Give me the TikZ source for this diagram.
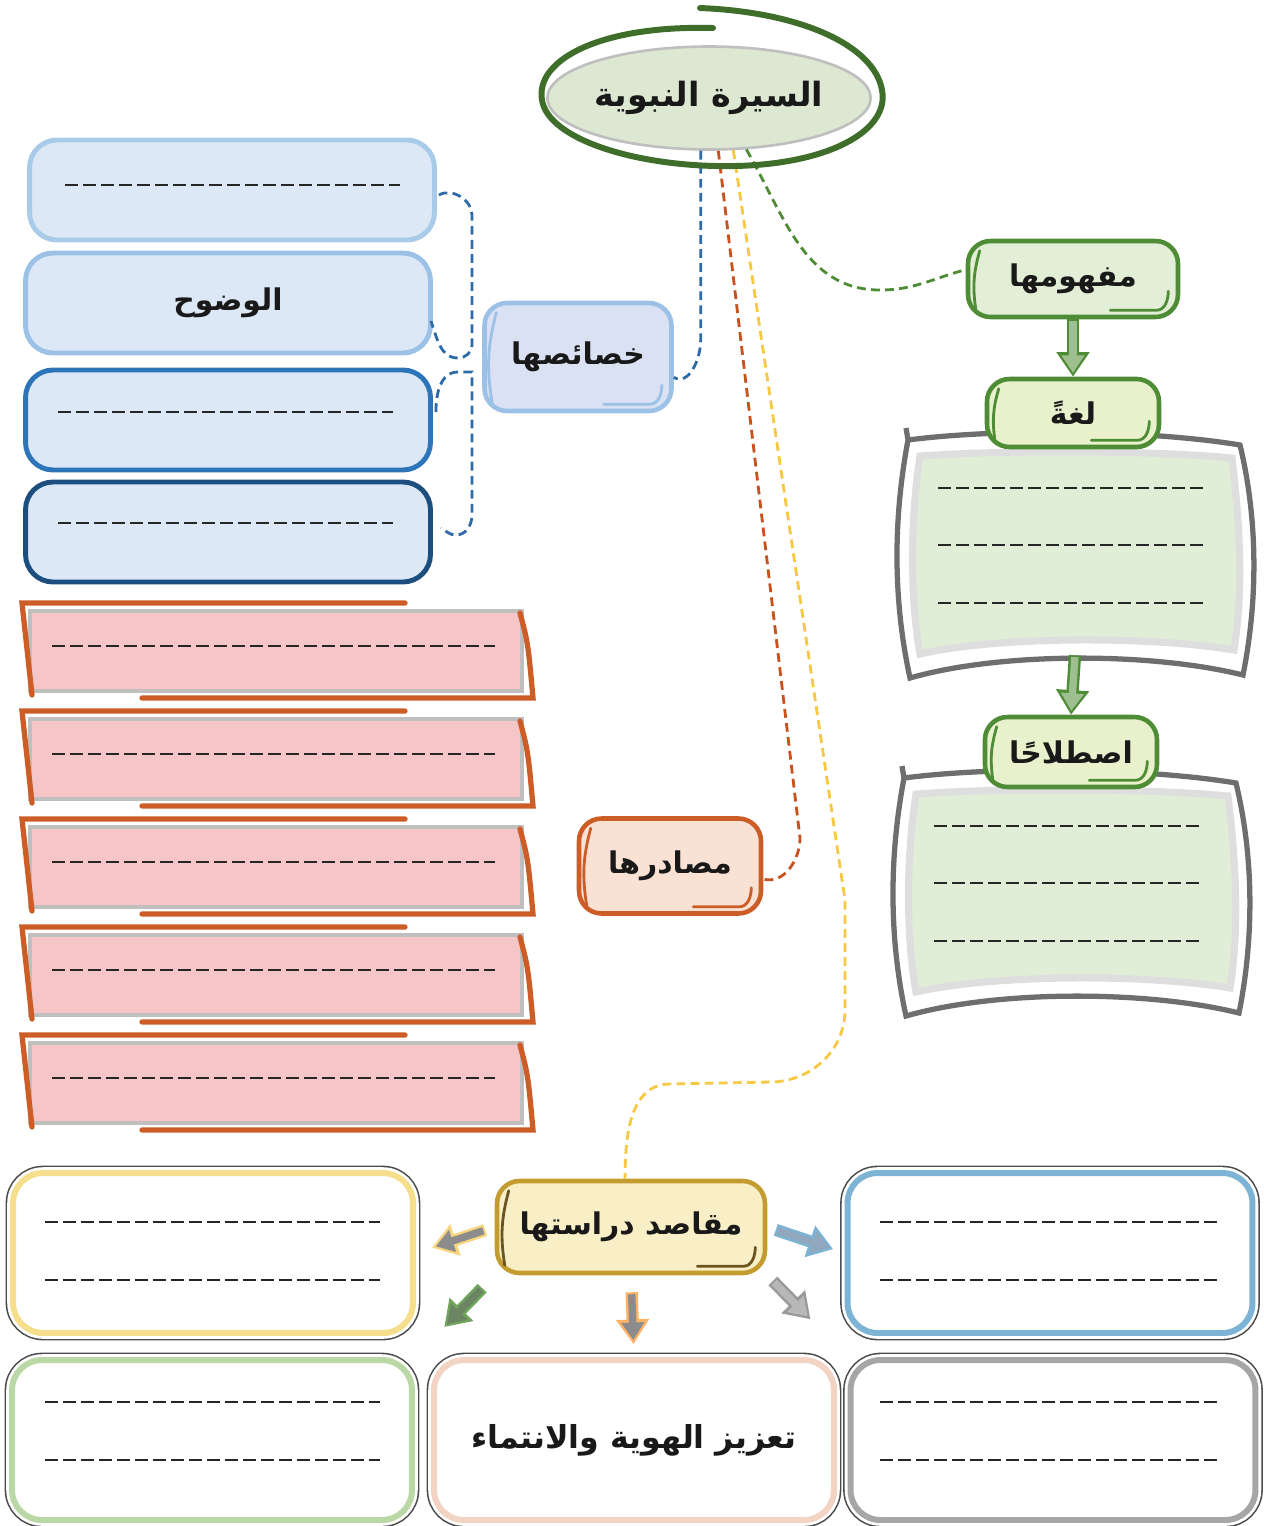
\documentclass[tikz,border=0pt]{standalone}
\usepackage{fontspec}
\newfontfamily\arabicfont[Script=Arabic]{DejaVu Sans}
\TeXXeTstate=1
\usepackage{tikz}
\usetikzlibrary{shapes.geometric, arrows.meta, positioning, calc}

\definecolor{ringgreen}{HTML}{3F6E2B}
\definecolor{titlefill}{HTML}{DCE8D1}
\definecolor{labelgreen}{HTML}{4E8D35}
\definecolor{mafhumfill}{HTML}{E2EED6}
\definecolor{lughafill}{HTML}{E8F0CC}
\definecolor{bodyfill}{HTML}{E0EDD7}
\definecolor{framegray}{HTML}{6E6E6E}
\definecolor{bluefill}{HTML}{DCE8F5}
\definecolor{blueA}{HTML}{A9CBEA}
\definecolor{blueB}{HTML}{9CC1E6}
\definecolor{blueC}{HTML}{2E74B8}
\definecolor{blueD}{HTML}{1D4E80}
\definecolor{khasaisfill}{HTML}{D9E1F3}
\definecolor{masadirfill}{HTML}{F9E1D4}
\definecolor{masadirline}{HTML}{CD5D27}
\definecolor{pinkfill}{HTML}{F6C5C7}
\definecolor{maqasidfill}{HTML}{F8EFC6}
\definecolor{maqasidline}{HTML}{C49B2E}
\definecolor{maqasidaccent}{HTML}{6B5420}
\definecolor{rimyellow}{HTML}{F5DF8C}
\definecolor{rimblue}{HTML}{7DB3D4}
\definecolor{rimgreen}{HTML}{B9D8A5}
\definecolor{rimpeach}{HTML}{F3D3C3}
\definecolor{rimgray}{HTML}{A6A6A6}
\definecolor{linkblue}{HTML}{2F6AA8}
\definecolor{linkred}{HTML}{C8521E}
\definecolor{linkyellow}{HTML}{F7C843}

\begin{document}
\begin{tikzpicture}[
    x=0.02cm, y=-0.02cm,
    lbl/.style={rectangle, rounded corners=0.45cm, line width=2.6pt, align=center, text=black!90, font=\arabicfont\bfseries\fontsize{17}{21}\selectfont},
    greenlbl/.style={lbl, draw=labelgreen},
    bluebox/.style={rectangle, rounded corners=0.55cm, fill=bluefill, line width=2.8pt, minimum width=8.1cm, minimum height=2cm, text=black!90, font=\arabicfont\bfseries\fontsize{17}{21}\selectfont},
    pinkbox/.style={rectangle, fill=pinkfill, draw=black!25, line width=2pt, minimum width=9.84cm, minimum height=1.6cm},
    aimbox/.style={rectangle, rounded corners=0.6cm, fill=white, line width=3.4pt, minimum width=8cm, minimum height=3.2cm, preaction={draw=black!70, line width=8.4pt}, preaction={draw=white, line width=6.6pt}, text=black!90, font=\arabicfont\bfseries\fontsize{18}{22}\selectfont},
    fillline/.style={line width=1.1pt, draw=black!85, dash pattern=on 0.26cm off 0.1cm},
    link/.style={line width=1.6pt, dash pattern=on 5pt off 3pt},
    bodyframe/.style={draw=framegray, line width=3pt, fill=white},
    srcframe/.style={draw=masadirline, line width=3pt, line cap=round},
    accent/.style={line width=1.6pt, line cap=round},
    fatrim/.style={line width=7pt, -{Triangle[length=14pt,width=18pt]}},
    fatcore/.style={line width=4.2pt, -{Triangle[length=10pt,width=12.5pt]}}
]
    \useasboundingbox (0,0) rectangle (1264,1526);

    % Definition bodies (right column)
    \foreach \dx/\dy in {0/0, -4/338} {
        \begin{scope}[shift={(\dx,\dy)}]
        \draw[bodyframe] (906,428) -- (908,440) .. controls (1000,428) and (1150,430) .. (1240,445) .. controls (1258,520) and (1258,600) .. (1243,675) .. controls (1150,652) and (1000,652) .. (910,678) .. controls (893,600) and (893,520) .. (908,440);
        \draw[draw=black!13, line width=4pt, fill=bodyfill] (920,456) .. controls (1000,450) and (1150,450) .. (1232,458) .. controls (1242,540) and (1242,600) .. (1234,650) .. controls (1150,636) and (1000,636) .. (920,654) .. controls (910,600) and (910,520) .. (920,456) -- cycle;
        \foreach \ly in {488,545,603} \draw[fillline] (938,\ly) -- (1203,\ly);
        \end{scope}
    }
    \node[minimum width=6.4cm, minimum height=4cm] (lughabody) at (1075,555) {};

    % Title
    \node[ellipse, inner sep=0pt, fill=titlefill, draw=black!25, line width=1.5pt, minimum width=6.44cm, minimum height=2.06cm, text=black!90, font=\arabicfont\bfseries\fontsize{19}{23}\selectfont] (sira) at (709,98) {\beginR السيرة النبوية\endR};

    % Concept
    \node[greenlbl, fill=mafhumfill, minimum width=4.2cm, minimum height=1.52cm] (mafhum) at (1073,279) {\beginR مفهومها\endR};
    \node[greenlbl, fill=lughafill, minimum width=3.44cm, minimum height=1.36cm] (lugha) at (1073,413) {\beginR لغةً\endR};
    \node[greenlbl, fill=lughafill, minimum width=3.44cm, minimum height=1.4cm] (istilah) at (1071,752) {\beginR اصطلاحًا\endR};

    % Characteristics
    \node[lbl, draw=blueB, fill=khasaisfill, minimum width=3.74cm, minimum height=2.16cm] (khasais) at (578,357) {\beginR خصائصها\endR};
    \node[bluebox, draw=blueA] (boxA) at (232,190) {};
    \node[bluebox, draw=blueB] (boxB) at (228,303) {\beginR الوضوح\endR};
    \node[bluebox, draw=blueC] (boxC) at (228,420) {};
    \node[bluebox, draw=blueD] (boxD) at (228,532) {};
    \draw[fillline] (65,185) -- (400,185);
    \draw[fillline] (58,412) -- (393,412);
    \draw[fillline] (58,523) -- (393,523);

    % Sources
    \node[lbl, draw=masadirline, fill=masadirfill, minimum width=3.64cm, minimum height=1.9cm] (masadir) at (670,866) {\beginR مصادرها\endR};
    \foreach \i in {0,...,4} {
        \pgfmathsetmacro{\yy}{603+108*\i}
        \node[pinkbox] (src\i) at (276,\yy+48) {};
        \draw[srcframe] (405,\yy) -- (22,\yy) -- (32,\yy+92);
        \draw[srcframe] (520,\yy+10) .. controls (528,\yy+40) .. (533,\yy+95) -- (142,\yy+95);
        \draw[fillline] (52,\yy+43) -- (495,\yy+43);
    }

    % Aims
    \node[lbl, draw=maqasidline, fill=maqasidfill, minimum width=5.36cm, minimum height=1.84cm] (maqasid) at (631,1227) {\beginR مقاصد دراستها\endR};
    \node[aimbox, draw=rimyellow] (aimyellow) at (213,1253) {};
    \node[aimbox, draw=rimblue, minimum width=8.1cm] (aimblue) at (1050,1253) {};
    \node[aimbox, draw=rimgreen] (aimgreen) at (212,1440) {};
    \node[aimbox, draw=rimpeach] (aimpeach) at (634,1440) {\beginR تعزيز الهوية والانتماء\endR};
    \node[aimbox, draw=rimgray, minimum width=8.1cm] (aimgray) at (1053,1440) {};
    \foreach \ly in {1222,1280} {
        \draw[fillline] (45,\ly) -- (380,\ly);
        \draw[fillline] (880,\ly) -- (1218,\ly);
    }
    \foreach \ly in {1402,1460} {
        \draw[fillline] (45,\ly) -- (380,\ly);
        \draw[fillline] (880,\ly) -- (1218,\ly);
    }

    % Accent strokes inside the labels
    \foreach \n/\c in {mafhum/labelgreen, lugha/labelgreen, istilah/labelgreen, khasais/blueB, masadir/masadirline, maqasid/maqasidaccent} {
        \draw[accent, \c] ([shift={(14,12)}]\n.north west) to[bend right=12] ([shift={(10,-10)}]\n.south west);
        \draw[accent, \c] ([shift={(-70,-9)}]\n.south east) -- ([shift={(-24,-9)}]\n.south east) to[out=0,in=-90] ([shift={(-12,-28)}]\n.south east);
    }

    % Dashed links from the title
    \draw[link, linkblue] (sira.261) -- ++(0,190) to[out=-90,in=-30] (khasais.-12);
    \draw[link, linkred] (sira.280) -- (800,838) to[out=-90,in=-15] (masadir.-8);
    \draw[link, linkyellow] (sira.295) -- (845,900) -- (845,1010) to[out=-90,in=0] (770,1082) -- (670,1084) to[out=180,in=90] (maqasid.97);
    \draw[link, labelgreen] (sira.306) to[out=-60,in=180] (880,290) to[out=0,in=195] (mafhum.175);

    % Bracket to the characteristics
    \draw[link, linkblue] ([shift={(2,5)}]boxA.east) to[out=30,in=90] (472,215) -- (472,345) to[out=-90,in=0] (458,358) to[out=180,in=-70] ([shift={(-2,18)}]boxB.east);
    \draw[link, linkblue] ([shift={(3,-8)}]boxC.east) to[out=90,in=180] (458,372) -- (472,372) -- (472,515) to[out=-90,in=0] (456,535) to[out=180,in=-30] ([shift={(8,-4)}]boxD.east);

    % Title ring
    \draw[ringgreen, line width=3.4pt, line cap=round] (713,28) .. controls (600,25) and (535,60) .. (542,100) .. controls (548,140) and (640,168) .. (735,166) .. controls (830,164) and (890,130) .. (882,90) .. controls (874,45) and (800,12) .. (700,8);

    % Green arrows
    \draw[fatrim, draw=labelgreen] (mafhum.south) -- (lugha.north);
    \draw[fatcore, draw=labelgreen!55, shorten >=2.2pt, shorten <=1pt] (mafhum.south) -- (lugha.north);
    \draw[fatrim, draw=labelgreen] (lughabody.south) -- (istilah.north);
    \draw[fatcore, draw=labelgreen!55, shorten >=2.2pt, shorten <=1pt] (lughabody.south) -- (istilah.north);

    % Arrows to the aims
    \draw[fatrim, draw=rimyellow!90!orange, shorten <=0.2cm, shorten >=0.34cm] (maqasid.west) -- (aimyellow.east);
    \draw[fatcore, draw=black!45, shorten <=0.24cm, shorten >=0.42cm] (maqasid.west) -- (aimyellow.east);
    \draw[fatrim, draw=rimblue, shorten <=0.18cm, shorten >=0.24cm] (maqasid.east) -- (aimblue.west);
    \draw[fatcore, draw=blueB!60!gray, shorten <=0.22cm, shorten >=0.32cm] (maqasid.east) -- (aimblue.west);
    \draw[fatrim, draw=orange!60, shorten <=0.34cm, shorten >=0.26cm] (maqasid.south) -- (aimpeach.north);
    \draw[fatcore, draw=black!45, shorten <=0.38cm, shorten >=0.34cm] (maqasid.south) -- (aimpeach.north);
    \draw[fatrim, draw=labelgreen!80, shorten <=0.36cm, shorten >=0.84cm] (maqasid.south west) -- (aimgreen.north east);
    \draw[fatcore, draw=labelgreen!40!gray, shorten <=0.4cm, shorten >=0.92cm] (maqasid.south west) -- (aimgreen.north east);
    \draw[fatrim, draw=black!40, shorten <=0.16cm, shorten >=1.06cm] (maqasid.south east) -- (aimgray.north west);
    \draw[fatcore, draw=black!28, shorten <=0.2cm, shorten >=1.14cm] (maqasid.south east) -- (aimgray.north west);
\end{tikzpicture}
\end{document}
